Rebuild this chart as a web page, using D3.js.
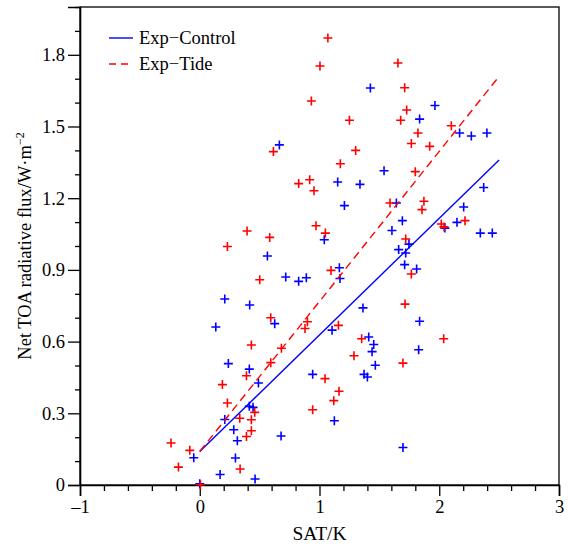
<!DOCTYPE html>
<html>
<head>
<meta charset="utf-8">
<script src="https://cdn.jsdelivr.net/npm/d3@7"></script>
<style>
  body { margin: 0; background: #fff; }
  text { font-family: "Liberation Serif", "Times New Roman", serif; }
</style>
</head>
<body>
<svg id="chart" width="568" height="546"></svg>
<script>
// SAT (K) and net TOA flux (W m-2) for the control run
var controlSat = [1.425, 0.665, 1.152, 1.338, 1.964, 1.836, 2.17, 2.268, 2.398, 1.539, 2.371, 1.208,
  1.04, 0.565, 1.166, 1.171, 0.718, 0.826, 0.89, 0.209, 0.417, 1.363, 0.626, 0.134, 1.105, 1.411,
  1.453, 1.439, 0.239, 1.466, 0.414, 0.943, 1.372, 1.40, 0.49, 0.414, 0.445, 0.209, 1.124, 0.284,
  0.314, 0.679, -0.05, 0.298, 0.17, 0.462, 0.0, 1.642, 2.204, 1.692, 2.047, 2.148, 1.605, 2.343,
  2.443, 1.747, 1.661, 1.72, 1.711, 1.811, 1.836, 1.828, 1.697];
var controlFlux = [1.661, 1.423, 1.268, 1.258, 1.588, 1.531, 1.473, 1.460, 1.473, 1.315, 1.245, 1.169,
  1.026, 0.958, 0.909, 0.864, 0.870, 0.852, 0.867, 0.778, 0.753, 0.741, 0.675, 0.661, 0.648, 0.619,
  0.588, 0.558, 0.508, 0.501, 0.485, 0.463, 0.463, 0.452, 0.427, 0.329, 0.325, 0.274, 0.269, 0.231,
  0.185, 0.205, 0.114, 0.113, 0.044, 0.025, 0.005, 1.180, 1.163, 1.106, 1.075, 1.099, 1.065, 1.054,
  1.054, 1.008, 0.985, 0.971, 0.922, 0.904, 0.685, 0.566, 0.157];

// same for the tide run
var tideSat = [1.07, 1.004, 0.932, 1.25, 0.615, 1.302, 1.174, 0.826, 0.918, 0.954, 1.655, 1.711,
  1.728, 1.678, 2.101, 1.822, 1.767, 1.920, 1.80, 0.395, 0.971, 1.049, 0.584, 0.231, 1.096, 0.501,
  0.593, 0.899, 0.879, 1.158, 1.352, 0.431, 0.682, 1.288, 0.593, 0.39, 1.046, 0.189, 1.163, 0.231,
  1.119, 0.459, 0.943, 0.334, 0.431, 0.431, 0.39, -0.083, 0.337, 0.006, -0.24, -0.178, 1.589,
  1.872, 1.856, 2.017, 2.04, 2.215, 1.72, 1.767, 1.714, 2.037, 1.697];
var tideFlux = [1.870, 1.753, 1.607, 1.526, 1.395, 1.400, 1.344, 1.261, 1.277, 1.231, 1.766, 1.662,
  1.569, 1.526, 1.503, 1.473, 1.429, 1.417, 1.311, 1.063, 1.085, 1.054, 1.036, 0.998, 0.898, 0.859,
  0.700, 0.683, 0.655, 0.668, 0.612, 0.586, 0.572, 0.541, 0.512, 0.457, 0.445, 0.420, 0.392, 0.343,
  0.353, 0.304, 0.315, 0.279, 0.273, 0.227, 0.203, 0.145, 0.067, 0.001, 0.176, 0.075, 1.180,
  1.187, 1.152, 1.092, 1.080, 1.106, 1.029, 0.883, 0.757, 0.612, 0.510];

// fitted lines
var fitSat = [0, 2.5];
var fitControl = [0.14, 1.36];
var fitTide = [0.14, 1.71];

var xTicks = [-1, 0, 1, 2, 3];
var yTicks = [0, 0.3, 0.6, 0.9, 1.2, 1.5, 1.8];

var svg = d3.select("#chart");
var mLeft = 80, mRight = 559, mTop = 7, mBottom = 485;

var x = d3.scaleLinear().domain([-1, 3]).range([mLeft, mRight]);
var y = d3.scaleLinear().domain([0, 2]).range([mBottom, mTop]);

// frame
svg.append("rect")
  .attr("x", mLeft).attr("y", mTop)
  .attr("width", mRight - mLeft).attr("height", mBottom - mTop)
  .attr("fill", "none").attr("stroke", "#000").attr("stroke-width", 1.3);

// minor ticks
var xMinor = d3.range(-1, 3.001, 0.2).filter(function (v) { return Math.abs(v - Math.round(v)) > 1e-6; });
var yMinor = d3.range(0.1, 2.001, 0.1).filter(function (v) { return Math.abs(v / 0.3 - Math.round(v / 0.3)) > 1e-6; });

var xAxis = svg.append("g").attr("transform", "translate(0," + mBottom + ")")
  .call(d3.axisBottom(x).tickValues(xTicks).tickSize(11).tickPadding(4)
    .tickFormat(function (d) { return d < 0 ? "\u2013" + Math.abs(d) : d; }));
xAxis.append("g").call(d3.axisBottom(x).tickValues(xMinor).tickSize(6).tickFormat(""))
  .select(".domain").remove();

var yAxis = svg.append("g").attr("transform", "translate(" + mLeft + ",0)")
  .call(d3.axisLeft(y).tickValues(yTicks).tickSize(12).tickPadding(3)
    .tickFormat(function (d) { return d === 0 ? "0" : d3.format(".1f")(d); }));
yAxis.append("g").call(d3.axisLeft(y).tickValues(yMinor).tickSize(5).tickFormat(""))
  .select(".domain").remove();

svg.selectAll(".domain").attr("stroke-width", 1.6);
svg.selectAll(".tick line").attr("stroke-width", 1.3);
svg.selectAll(".tick text").attr("font-size", 18.5)
  .attr("font-family", "Liberation Serif, Times New Roman, serif").attr("fill", "#000");

// axis titles
svg.append("text").attr("x", x(1)).attr("y", 540)
  .attr("text-anchor", "middle").attr("font-size", 19.5).text("SAT/K");

var ylab = svg.append("text")
  .attr("transform", "translate(31," + ((mTop + mBottom) / 2) + ") rotate(-90)")
  .attr("text-anchor", "middle").attr("font-size", 18.5);
ylab.append("tspan").text("Net TOA radiative flux/W\u00b7m");
ylab.append("tspan").attr("dy", -7).attr("font-size", 12).text("\u22122");

// scatter
var cross = "M-4.5,0H4.5M0,-4.5V4.5";
function drawPoints(xs, ys, color) {
  svg.append("g").selectAll("path").data(d3.range(xs.length)).join("path")
    .attr("d", cross)
    .attr("transform", function (i) { return "translate(" + x(xs[i]) + "," + y(ys[i]) + ")"; })
    .attr("stroke", color).attr("stroke-width", 1.6).attr("fill", "none");
}
drawPoints(controlSat, controlFlux, "#0000ff");
drawPoints(tideSat, tideFlux, "#ff0000");

// fit lines
var line = d3.line().x(function (d) { return x(d[0]); }).y(function (d) { return y(d[1]); });
svg.append("path").datum(d3.zip(fitSat, fitControl)).attr("d", line)
  .attr("fill", "none").attr("stroke", "#0000ff").attr("stroke-width", 1.4);
svg.append("path").datum(d3.zip(fitSat, fitTide)).attr("d", line)
  .attr("fill", "none").attr("stroke", "#ff0000").attr("stroke-width", 1.4)
  .attr("stroke-dasharray", "8,5");

// legend
var legend = [
  { name: "Exp\u2212Control", color: "#0000ff", dash: null },
  { name: "Exp\u2212Tide", color: "#ff0000", dash: "7,5" }
];
var lg = svg.append("g").attr("transform", "translate(109,38)");
legend.forEach(function (d, i) {
  lg.append("line").attr("x1", 0).attr("x2", 24).attr("y1", i * 26).attr("y2", i * 26)
    .attr("stroke", d.color).attr("stroke-width", 1.4).attr("stroke-dasharray", d.dash);
  lg.append("text").attr("x", 30).attr("y", i * 26 + 6).attr("font-size", 18.5).text(d.name);
});
</script>
</body>
</html>
